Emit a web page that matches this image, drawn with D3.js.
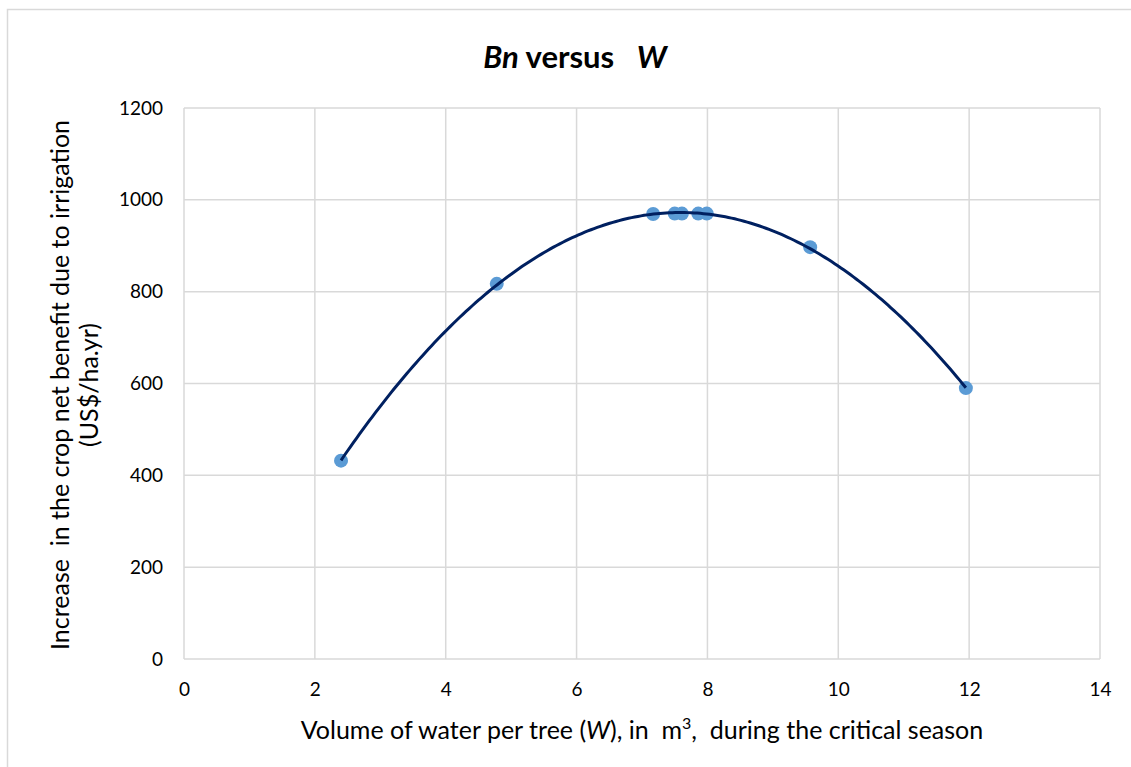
<!DOCTYPE html>
<html>
<head>
<meta charset="utf-8">
<script src="https://cdn.jsdelivr.net/npm/d3@7"></script>
<style>
  body { margin: 0; background: #fff; }
  text { font-family: Lato, "Open Sans", sans-serif; fill: #000; white-space: pre; }
</style>
</head>
<body>
<script>
// data
var waterVolume = [2.4, 4.78, 7.17, 7.5, 7.61, 7.86, 7.99, 9.57, 11.95];
var netBenefit  = [432, 817, 969, 970, 970, 970, 970, 897, 590];
var xTicks = [0, 2, 4, 6, 8, 10, 12, 14];
var yTicks = [0, 200, 400, 600, 800, 1000, 1200];

var width = 1131,
    height = 767;

var svg = d3.select("body").append("svg")
    .attr("width", width)
    .attr("height", height);

// chart border
svg.append("rect")
    .attr("x", 7.5).attr("y", 9.5)
    .attr("width", 1200).attr("height", 1000)
    .attr("fill", "none")
    .attr("stroke", "#d9d9d9")
    .attr("stroke-width", 1.5);

var x = d3.scaleLinear().domain([0, 14]).range([184, 1100]);
var y = d3.scaleLinear().domain([0, 1200]).range([659, 108]);

// gridlines
svg.append("g")
    .selectAll("line")
    .data(xTicks)
    .enter().append("line")
    .attr("x1", function(d){ return x(d); })
    .attr("x2", function(d){ return x(d); })
    .attr("y1", y(0)).attr("y2", y(1200))
    .attr("stroke", "#d9d9d9")
    .attr("stroke-width", 1.5);

svg.append("g")
    .selectAll("line")
    .data(yTicks)
    .enter().append("line")
    .attr("x1", x(0)).attr("x2", x(14))
    .attr("y1", function(d){ return y(d); })
    .attr("y2", function(d){ return y(d); })
    .attr("stroke", "#d9d9d9")
    .attr("stroke-width", 1.5);

// axes (labels only, lines drawn as grid)
var xAxis = svg.append("g")
    .attr("transform", "translate(0," + y(0) + ")")
    .call(d3.axisBottom(x).tickValues(xTicks).tickFormat(d3.format("d")).tickSize(0).tickPadding(24));
var yAxis = svg.append("g")
    .attr("transform", "translate(" + x(0) + ",0)")
    .call(d3.axisLeft(y).tickValues(yTicks).tickFormat(d3.format("d")).tickSize(0).tickPadding(21));
[xAxis, yAxis].forEach(function(a){
  a.select(".domain").remove();
  a.selectAll("text")
    .style("font-family", "Lato, 'Open Sans', sans-serif")
    .style("font-size", "19px")
    .attr("fill", "#000");
});

// points
svg.append("g")
    .selectAll("circle")
    .data(waterVolume)
    .enter().append("circle")
    .attr("cx", function(d){ return x(d); })
    .attr("cy", function(d, i){ return y(netBenefit[i]); })
    .attr("r", 7)
    .attr("fill", "#5b9bd5");

// polynomial (order 2) trendline, least squares fit of the points
function quadFit(xs, ys) {
  var s = [0,0,0,0,0], t = [0,0,0];
  xs.forEach(function(xv, i){
    for (var k = 0; k < 5; k++) s[k] += Math.pow(xv, k);
    for (var k2 = 0; k2 < 3; k2++) t[k2] += ys[i] * Math.pow(xv, k2);
  });
  var m = [[s[0], s[1], s[2], t[0]], [s[1], s[2], s[3], t[1]], [s[2], s[3], s[4], t[2]]];
  for (var c = 0; c < 3; c++) {
    for (var r = c + 1; r < 3; r++) {
      var f = m[r][c] / m[c][c];
      for (var j = c; j < 4; j++) m[r][j] -= f * m[c][j];
    }
  }
  var b = [0,0,0];
  for (var r2 = 2; r2 >= 0; r2--) {
    var v = m[r2][3];
    for (var j2 = r2 + 1; j2 < 3; j2++) v -= m[r2][j2] * b[j2];
    b[r2] = v / m[r2][r2];
  }
  return b;
}
var coef = quadFit(waterVolume, netBenefit);
var trend = d3.range(0, 201).map(function(i){
  var xv = d3.min(waterVolume) + i * (d3.max(waterVolume) - d3.min(waterVolume)) / 200;
  return [xv, coef[0] + coef[1] * xv + coef[2] * xv * xv];
});
svg.append("path")
    .datum(trend)
    .attr("fill", "none")
    .attr("stroke", "#002060")
    .attr("stroke-width", 3)
    .attr("d", d3.line()
      .x(function(d){ return x(d[0]); })
      .y(function(d){ return y(d[1]); }));

// title
var title = svg.append("text")
    .attr("x", 575).attr("y", 68)
    .attr("text-anchor", "middle")
    .style("font-size", "31px")
    .style("font-weight", "bold");
title.append("tspan").style("font-style", "italic").text("Bn");
title.append("tspan").text(" versus   ");
title.append("tspan").style("font-style", "italic").text("W");

// x axis title
var xt = svg.append("text")
    .attr("x", 642).attr("y", 739)
    .attr("text-anchor", "middle")
    .style("font-size", "25px");
xt.append("tspan").text("Volume of water per tree (");
xt.append("tspan").style("font-style", "italic").text("W");
xt.append("tspan").text("), in  m");
xt.append("tspan").attr("dy", -10).style("font-size", "16px").text("3");
xt.append("tspan").attr("dy", 10).text(",  during the critical season");

// y axis title
var yt = svg.append("text")
    .attr("transform", "translate(69,385) rotate(-90)")
    .attr("text-anchor", "middle")
    .style("font-size", "25px");
yt.append("tspan").attr("x", 0).attr("dy", 0).text("Increase  in the crop net benefit due to irrigation");
yt.append("tspan").attr("x", 0).attr("dy", 29).text("(US$/ha.yr)");
</script>
</body>
</html>
